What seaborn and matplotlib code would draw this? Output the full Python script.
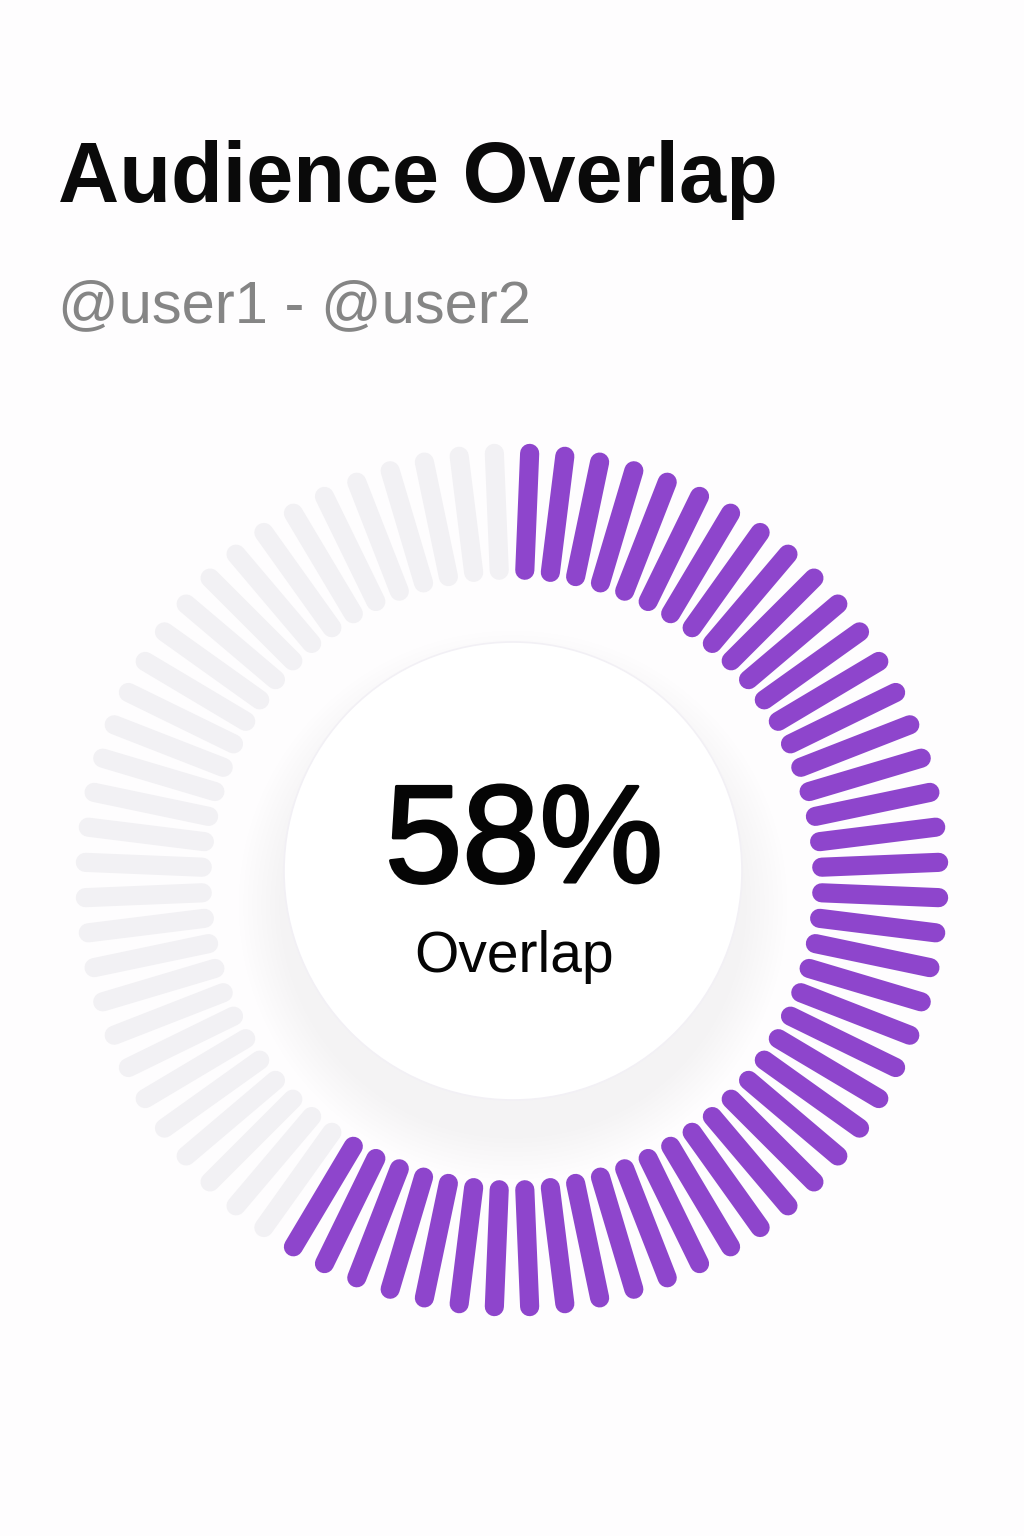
"""Audience overlap radial tick gauge."""

import math

import matplotlib
matplotlib.use("Agg")
import matplotlib.patheffects as pe
import matplotlib.pyplot as plt
import numpy as np
import pandas as pd
import seaborn as sns
from matplotlib.patches import Circle

# --- data -------------------------------------------------------------------
TITLE = "Audience Overlap"
SUBTITLE = "@user1 - @user2"
CENTER_LABEL = "Overlap"
OVERLAP_PCT = 58
N_TICKS = 76

PURPLE = "#8e45cc"
TRACK = "#f2f1f4"

# --- figure -----------------------------------------------------------------
sns.set_theme(style="white")
plt.rcParams["font.family"] = ["Liberation Sans", "DejaVu Sans"]

W, H, DPI = 1024, 1536, 100
BG = "#fefdfe"
fig = plt.figure(figsize=(W / DPI, H / DPI), dpi=DPI, facecolor=BG)

# background axes in pixel coords (y down)
bg = fig.add_axes([0, 0, 1, 1])
bg.set_xlim(0, W)
bg.set_ylim(H, 0)
bg.set_facecolor(BG)
bg.axis("off")

CX, CY = 512, 880          # gauge centre (px)
R_BOX = 440                # polar axes radius (px)
DISC_R, DISC_CY = 229, 871

# soft drop shadow under the centre disc
n_sh = 10
for k in range(n_sh):
    r = DISC_R + 45 * (1 - k / n_sh)
    bg.add_patch(Circle((CX + 1, DISC_CY + 34), r, facecolor="#9a96a4",
                        edgecolor="none", alpha=2 / 255, zorder=1))
bg.add_patch(Circle((CX + 1, DISC_CY), DISC_R, facecolor="white",
                    edgecolor="#f2f0f5", linewidth=1.2, zorder=2))

# --- tick ring on polar axes -------------------------------------------------
pax = fig.add_axes([(CX - R_BOX) / W, (H - CY - R_BOX) / H,
                    2 * R_BOX / W, 2 * R_BOX / H], projection="polar")
pax.set_theta_zero_location("N")
pax.set_theta_direction(-1)
pax.set_ylim(0, 1)
pax.set_facecolor("none")
pax.grid(False)
pax.set_xticks([])
pax.set_yticks([])
pax.spines["polar"].set_visible(False)

n_active = math.ceil(OVERLAP_PCT / 100 * N_TICKS)
step = 2 * np.pi / N_TICKS
rows = []
for i in range(N_TICKS):
    th = (i + 0.5) * step
    state = "on" if i < n_active else "off"
    rows.append({"tick": i, "theta": th, "r": 310 / R_BOX, "state": state})
    rows.append({"tick": i, "theta": th, "r": 427 / R_BOX, "state": state})
ticks = pd.DataFrame(rows)

sns.lineplot(data=ticks, x="theta", y="r", units="tick", estimator=None,
             hue="state", hue_order=["off", "on"],
             palette={"off": TRACK, "on": PURPLE}, sort=False,
             linewidth=13.8, solid_capstyle="round", legend=False, ax=pax)
pax.set_xlabel("")
pax.set_ylabel("")

# --- text -------------------------------------------------------------------
bg.text(58, 202, TITLE, fontsize=61, fontweight="bold", color="#0a0a0a",
        ha="left", va="baseline", zorder=5)
bg.text(58, 322, SUBTITLE, fontsize=43, color="#858585",
        ha="left", va="baseline", zorder=5)
bg.text(524, 882, f"{OVERLAP_PCT}%", fontsize=100, color="#050505",
        ha="center", va="baseline", zorder=5,
        path_effects=[pe.withStroke(linewidth=2.2, foreground="#050505")])
bg.text(514, 972, CENTER_LABEL, fontsize=41, color="#050505",
        ha="center", va="baseline", zorder=5)

fig.savefig("out.png", dpi=DPI, facecolor=BG)
